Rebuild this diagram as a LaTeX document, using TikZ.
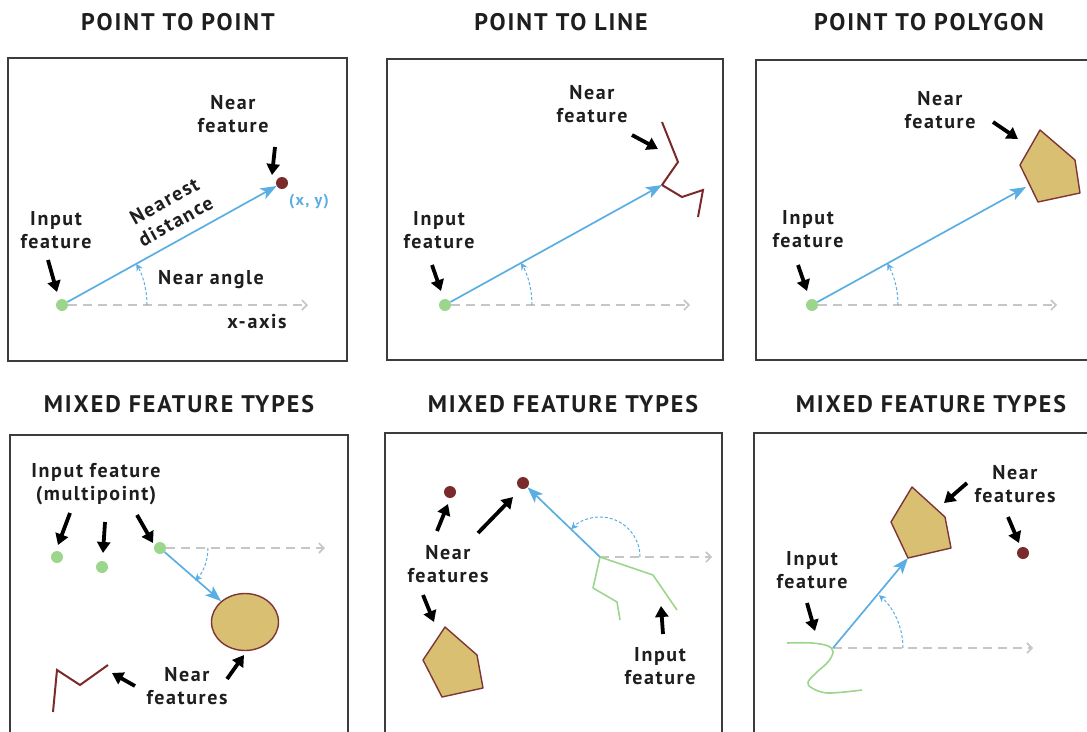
\documentclass[tikz,border=0pt]{standalone}
\usepackage{fontspec}
\setmainfont{PT Sans}
\newfontfamily\labelfont[LetterSpace=8]{PT Sans Bold}
\newfontfamily\headfont[LetterSpace=8]{PT Sans Bold}
\usetikzlibrary{arrows.meta,shapes.geometric}

\definecolor{framegray}{HTML}{3C3C3C}
\definecolor{rayblue}{HTML}{5AAEE2}
\definecolor{axisgray}{HTML}{C6C6C6}
\definecolor{srcgreen}{HTML}{9CD58C}
\definecolor{nearred}{HTML}{7A2A2A}
\definecolor{polytan}{HTML}{D8BF72}
\definecolor{polyedge}{HTML}{7F3535}
\definecolor{ink}{HTML}{1E1E1E}

\tikzset{
  panel/.style={draw=framegray, line width=2pt},
  heading/.style={font=\headfont\fontsize{24}{28}\selectfont, text=ink, inner sep=0pt},
  lbl/.style={font=\labelfont\fontsize{20}{23}\selectfont, align=center, text=ink, inner sep=0pt},
  pointer/.style={draw=black, line width=3.8pt, -{Triangle[length=11pt,width=13pt]}},
  ray/.style={draw=rayblue, line width=1.7pt, -{Stealth[length=16pt,width=12pt,inset=4pt]}},
  xaxis/.style={draw=axisgray, line width=1.6pt, dash pattern=on 9pt off 6pt, -{Straight Barb[length=5pt,width=10pt]}},
  anglearc/.style={draw=rayblue, line width=1pt, dash pattern=on 3pt off 2pt, -{Stealth[length=7pt,width=7pt]}},
  inpoint/.style={circle, fill=srcgreen, minimum size=12pt, inner sep=0pt},
  nearpoint/.style={circle, fill=nearred, minimum size=12pt, inner sep=0pt},
  nearline/.style={draw=nearred, line width=2pt, line join=miter},
  nearpoly/.style={draw=polyedge, fill=polytan, line width=1.4pt, line join=round},
  inline/.style={draw=srcgreen, line width=1.6pt, line join=round},
}

\begin{document}
\begin{tikzpicture}[x=1pt, y=-1pt]
\useasboundingbox (0,0) rectangle (1087,731);
\clip (0,0) rectangle (1087,731);

% ---------- headings ----------
\node[heading] (h1) at (178,22) {POINT TO POINT};
\node[heading] (h2) at (561,22) {POINT TO LINE};
\node[heading] (h3) at (929,22) {POINT TO POLYGON};
\node[heading] (h4) at (179,404) {MIXED FEATURE TYPES};
\node[heading] (h5) at (563,404) {MIXED FEATURE TYPES};
\node[heading] (h6) at (931,404) {MIXED FEATURE TYPES};

% ---------- frames ----------
\draw[panel] (8,58) rectangle (347,361);
\draw[panel] (387,59) rectangle (723,360);
\draw[panel] (756,60) rectangle (1095,360);
\draw[panel] (10,435) rectangle (348,740);
\draw[panel] (385,433) rectangle (722,740);
\draw[panel] (754,433) rectangle (1095,740);

% ---------- point to point ----------
\coordinate (ax1) at (308,305);
\node[inpoint] (in1) at (62,305) {};
\draw[xaxis] (in1) -- (ax1);
\node[nearpoint] (near1) at (282,183) {};
\draw[ray] (in1) -- (near1);
\draw[anglearc] ([xshift=85pt]in1.center) arc[start angle=0, end angle=-29, radius=85];
\node[lbl] (l1in) at (56,230) {Input\\feature};
\node[lbl] (l1near) at (233,114) {Near\\feature};
\node[lbl] (l1ang) at (211,280) {Near angle};
\node[lbl] (l1x) at (257,322) {x-axis};
\node[lbl, rotate=29] (l1dist) at (170,211) {Nearest\\distance};
\node[font=\labelfont\fontsize{16}{20}\selectfont, text=rayblue, inner sep=0pt] (l1xy) at (309,202) {(x, y)};
\coordinate (p1a) at (48,260);  \coordinate (p1b) at (57,292);
\coordinate (p1c) at (275,147); \coordinate (p1d) at (272,175);
\draw[pointer] (p1a) -- (p1b);
\draw[pointer] (p1c) -- (p1d);

% ---------- point to line ----------
\coordinate (ax2) at (690,305);
\node[inpoint] (in2) at (445,305) {};
\draw[xaxis] (in2) -- (ax2);
\coordinate (hit2) at (662,185);
\draw[nearline] (662,122) -- (678,162) -- (hit2) -- (682,197) -- (703,190) -- (698,217);
\draw[ray] (in2) -- (hit2);
\draw[anglearc] ([xshift=87pt]in2.center) arc[start angle=0, end angle=-29, radius=87];
\node[lbl] (l2in) at (439,230) {Input\\feature};
\node[lbl] (l2near) at (592,104) {Near\\feature};
\coordinate (p2a) at (432,265); \coordinate (p2b) at (441,291);
\coordinate (p2c) at (632,135); \coordinate (p2d) at (658,149);
\draw[pointer] (p2a) -- (p2b);
\draw[pointer] (p2c) -- (p2d);

% ---------- point to polygon ----------
\coordinate (ax3) at (1057,305);
\node[inpoint] (in3) at (812,305) {};
\draw[xaxis] (in3) -- (ax3);
\draw[nearpoly] (1040,130) -- (1075,160) -- (1080,193) -- (1038,202) -- (1020,165) -- cycle;
\coordinate (hit3) at (1026,187);
\draw[ray] (in3) -- (hit3);
\draw[anglearc] ([xshift=86pt]in3.center) arc[start angle=0, end angle=-29, radius=86];
\node[lbl] (l3in) at (808,229) {Input\\feature};
\node[lbl] (l3near) at (940,110) {Near\\feature};
\coordinate (p3a) at (798,265);  \coordinate (p3b) at (807,291);
\coordinate (p3c) at (993,122);  \coordinate (p3d) at (1018,139);
\draw[pointer] (p3a) -- (p3b);
\draw[pointer] (p3c) -- (p3d);

% ---------- multipoint to mixed ----------
\coordinate (ax4) at (325,548);
\node[inpoint] (in4a) at (57,557) {};
\node[inpoint] (in4b) at (102,567) {};
\node[inpoint] (in4c) at (160,548) {};
\draw[xaxis] (in4c) -- (ax4);
\node[ellipse, draw=polyedge, fill=polytan, line width=1.4pt, minimum width=67pt, minimum height=57pt, inner sep=0pt] (ell4) at (245,622) {};
\draw[ray] (in4c) -- (ell4);
\draw[anglearc] ([xshift=48pt]in4c.center) arc[start angle=0, end angle=43, radius=48];
\draw[nearline] (53,712) -- (57,670) -- (80,685) -- (108,665);
\node[lbl] (l4in) at (96,484) {Input feature\\(multipoint)};
\node[lbl] (l4near) at (187,686) {Near\\features};
\coordinate (p4a) at (70,513);  \coordinate (p4b) at (58,545);
\coordinate (p4c) at (105,522); \coordinate (p4d) at (103,553);
\coordinate (p4e) at (137,515); \coordinate (p4f) at (153,543);
\coordinate (p4g) at (135,686); \coordinate (p4h) at (112,673);
\coordinate (p4i) at (227,679); \coordinate (p4j) at (244,655);
\draw[pointer] (p4a) -- (p4b);
\draw[pointer] (p4c) -- (p4d);
\draw[pointer] (p4e) -- (p4f);
\draw[pointer] (p4g) -- (p4h);
\draw[pointer] (p4i) -- (p4j);

% ---------- line to mixed ----------
\coordinate (src5) at (600,557);
\coordinate (ax5) at (712,557);
\draw[xaxis] (src5) -- (ax5);
\draw[inline] (src5) -- (593,588) -- (617,602) -- (620,620);
\draw[inline] (src5) -- (653,575) -- (677,610);
\node[nearpoint] (n5a) at (450,492) {};
\node[nearpoint] (n5b) at (523,483) {};
\draw[ray] (src5) -- (n5b);
\draw[anglearc] ([xshift=40pt]src5) arc[start angle=0, end angle=-136, radius=40];
\draw[nearpoly] (445,627) -- (477,655) -- (483,688) -- (442,697) -- (423,660) -- cycle;
\node[lbl] (l5near) at (448,564) {Near\\features};
\node[lbl] (l5in) at (660,666) {Input\\feature};
\coordinate (p5a) at (437,531); \coordinate (p5b) at (448,504);
\coordinate (p5c) at (478,533); \coordinate (p5d) at (513,497);
\coordinate (p5e) at (423,595); \coordinate (p5f) at (434,622);
\coordinate (p5g) at (663,634); \coordinate (p5h) at (661,606);
\draw[pointer] (p5a) -- (p5b);
\draw[pointer] (p5c) -- (p5d);
\draw[pointer] (p5e) -- (p5f);
\draw[pointer] (p5g) -- (p5h);

% ---------- curve to mixed ----------
\coordinate (src6) at (833,648);
\coordinate (ax6) at (1033,648);
\draw[inline] plot[smooth, tension=0.6] coordinates {(787,643) (812,643) (828,646) (833,652) (828,662) (817,672) (808,682) (812,688) (828,693) (862,690)};
\draw[xaxis] (src6) -- (ax6);
\draw[nearpoly] (912,487) -- (945,517) -- (951,548) -- (908,558) -- (891,522) -- cycle;
\coordinate (hit6) at (908,558);
\draw[ray] (src6) -- (hit6);
\draw[anglearc] ([xshift=70pt]src6) arc[start angle=0, end angle=-49, radius=70];
\node[nearpoint] (n6) at (1023,553) {};
\node[lbl] (l6near) at (1015,484) {Near\\features};
\node[lbl] (l6in) at (812,570) {Input\\feature};
\coordinate (p6a) at (967,483);  \coordinate (p6b) at (944,503);
\coordinate (p6c) at (1008,517); \coordinate (p6d) at (1019,543);
\coordinate (p6e) at (807,603);  \coordinate (p6f) at (815,631);
\draw[pointer] (p6a) -- (p6b);
\draw[pointer] (p6c) -- (p6d);
\draw[pointer] (p6e) -- (p6f);
\end{tikzpicture}
\end{document}
